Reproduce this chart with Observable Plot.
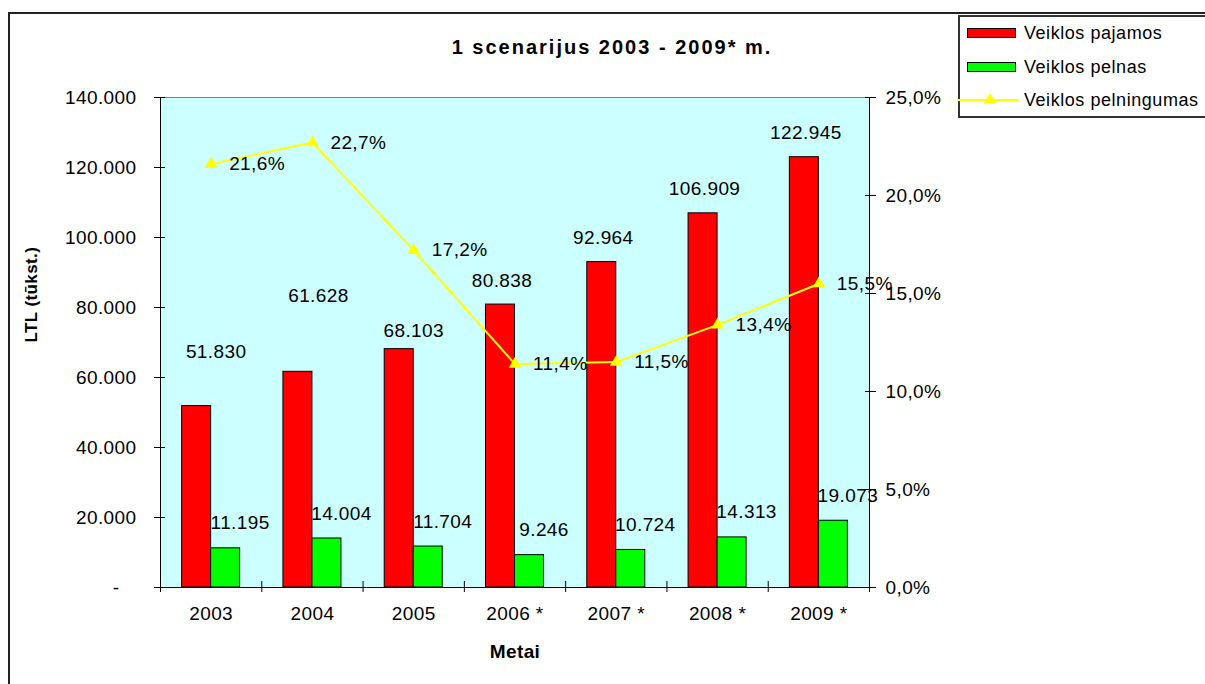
<!DOCTYPE html>
<html>
<head>
<meta charset="utf-8">
<script src="https://cdn.jsdelivr.net/npm/d3@7"></script>
<script src="https://cdn.jsdelivr.net/npm/@observablehq/plot@0.6"></script>
<style>
  body { margin: 0; background: #fff; font-family: "Liberation Sans", Arial, sans-serif; }
  #wrap { position: relative; width: 1205px; height: 684px; overflow: hidden; background: #fff; }
  #chart { position: absolute; left: 0; top: 0; }
  #outer { position: absolute; left: 8px; top: 12px; width: 1400px; height: 900px; border-left: 2px solid #222; border-top: 2px solid #222; }
  #title { position: absolute; left: 0; top: 36px; width: 1224px; text-align: center; font-weight: bold; font-size: 20px; letter-spacing: 2px; color: #000; }
  #legend { position: absolute; left: 958px; top: 15px; width: 300px; height: 99px; border: 2px solid #333; background: #fff; }
  .lg-text { position: absolute; font-size: 18px; letter-spacing: 0.55px; color: #000; line-height: 20px; white-space: nowrap; }
  .lg-swatch { position: absolute; border: 1px solid #000; }
</style>
</head>
<body>
<div id="wrap">
  <div id="outer"></div>
  <div id="chart"></div>
  <div id="title"></div>
  <div id="legend"></div>
</div>
<script>
// ---- data ----
const titleText = "1 scenarijus 2003 - 2009* m.";
const years = ["2003", "2004", "2005", "2006 *", "2007 *", "2008 *", "2009 *"];
const revenue = [51830, 61628, 68103, 80838, 92964, 106909, 122945];   // Veiklos pajamos
const profit = [11195, 14004, 11704, 9246, 10724, 14313, 19073];       // Veiklos pelnas
const margin = [21.6, 22.7, 17.2, 11.4, 11.5, 13.4, 15.5];             // Veiklos pelningumas (%)
const seriesNames = ["Veiklos pajamos", "Veiklos pelnas", "Veiklos pelningumas"];
const seriesColors = ["#ff0000", "#00ff00", "#ffff00"];
const leftTicks = [0, 20000, 40000, 60000, 80000, 100000, 120000, 140000];
const rightTicks = [0, 5, 10, 15, 20, 25];
const yTitle = "LTL (tūkst.)";
const xTitle = "Metai";

// ---- layout ----
const W = 1205, H = 684;
const mL = 160, mR = 336, mT = 97, mB = 97;
const bw = (W - mL - mR) / years.length;
const barW = 29;
const yMax = 140000, pMax = 25;
const k = yMax / pMax;

const fmtNum = v => v === 0 ? "-\u00a0\u00a0\u00a0" : d3.format(",")(v).replace(/,/g, ".");
const fmtPct = p => d3.format(".1f")(p).replace(".", ",") + "%";

const rows = years.map((year, i) => ({
  i, year, revenue: revenue[i], profit: profit[i], margin: margin[i], mScaled: margin[i] * k
}));

const revLabel = (pred, dx, dy) => Plot.text(rows.filter(pred), {
  x: "year", y: "revenue", text: d => fmtNum(d.revenue), dx, dy, textAnchor: "middle"
});

const chart = Plot.plot({
  width: W, height: H,
  marginLeft: mL, marginRight: mR, marginTop: mT, marginBottom: mB,
  style: { fontFamily: "Liberation Sans, Arial, sans-serif", fontSize: "19px", letterSpacing: "0.4px", background: "transparent", color: "#000" },
  x: { type: "band", domain: years, padding: 0, round: false, label: null },
  y: { domain: [0, yMax], label: null },
  marks: [
    Plot.frame({ fill: "#ccffff", stroke: "#808080" }),
    Plot.barY(rows, { x: "year", y: "revenue", fill: seriesColors[0], stroke: "#000", strokeWidth: 1,
      insetLeft: bw / 2 - barW, insetRight: bw / 2 }),
    Plot.barY(rows, { x: "year", y: "profit", fill: seriesColors[1], stroke: "#000", strokeWidth: 1,
      insetLeft: bw / 2, insetRight: bw / 2 - barW }),
    // axis lines
    Plot.ruleY([0], { stroke: "#000" }),
    Plot.ruleX([years[0]], { dx: -bw / 2, stroke: "#000" }),
    Plot.ruleX([years[years.length - 1]], { dx: bw / 2, stroke: "#000" }),
    // profitability line
    Plot.line(rows, { x: "year", y: "mScaled", stroke: seriesColors[2], strokeWidth: 2 }),
    Plot.dot(rows, { x: "year", y: "mScaled", symbol: "triangle", r: 4.7, fill: seriesColors[2], stroke: "none" }),
    Plot.text(rows, { x: "year", y: "mScaled", text: d => fmtPct(d.margin), dx: 18, textAnchor: "start" }),
    // revenue labels
    revLabel(d => d.i === 0, 5, -54),
    revLabel(d => d.i === 1, 6, -76),
    revLabel(d => d.i === 2, 0, -18),
    revLabel(d => d.i >= 3, -13, -24),
    // profit labels
    Plot.text(rows, { x: "year", y: "profit", text: d => fmtNum(d.profit), dx: 29, dy: -25, textAnchor: "middle" }),
    // left axis: ticks and labels
    Plot.axisY(leftTicks, { anchor: "left", tickSize: 11, dx: 5, fill: "none", label: null }),
    Plot.axisY(leftTicks, { anchor: "left", tickSize: 0, tickPadding: 24, tickFormat: fmtNum, label: null }),
    // right axis
    Plot.axisY(rightTicks.map(p => p * k), { anchor: "right", tickSize: 11, dx: -5, fill: "none", label: null }),
    Plot.axisY(rightTicks.map(p => p * k), { anchor: "right", tickSize: 0, tickPadding: 16, tickFormat: v => fmtPct(v / k), label: null }),
    // x axis: boundary ticks and labels
    Plot.axisX(years, { anchor: "bottom", tickSize: 11, dy: -6, dx: -bw / 2, fill: "none", label: null }),
    Plot.axisX([years[years.length - 1]], { anchor: "bottom", tickSize: 11, dy: -6, dx: bw / 2, fill: "none", label: null }),
    Plot.axisX(years, { anchor: "bottom", tickSize: 0, tickPadding: 19, label: null }),
    // axis titles
    Plot.text([yTitle], { text: d => d, frameAnchor: "left", dx: -129, rotate: -90, fontWeight: "bold", fontSize: 17, lineAnchor: "middle" }),
    Plot.text([xTitle], { text: d => d, frameAnchor: "bottom", dy: 64, fontWeight: "bold", lineAnchor: "middle", style: "letter-spacing:1.5px" })
  ]
});
document.getElementById("chart").appendChild(chart);

document.getElementById("title").textContent = titleText;

// legend
const wrap = document.getElementById("wrap");
const rowY = [33, 67, 100];
seriesNames.forEach((name, i) => {
  if (i < 2) {
    const sw = document.createElement("div");
    sw.className = "lg-swatch";
    Object.assign(sw.style, { left: "967px", top: (rowY[i] - 5) + "px", width: "47px", height: "8px", background: seriesColors[i] });
    wrap.appendChild(sw);
  } else {
    const svgNS = "http://www.w3.org/2000/svg";
    const s = document.createElementNS(svgNS, "svg");
    s.setAttribute("width", 64); s.setAttribute("height", 20);
    Object.assign(s.style, { position: "absolute", left: "957px", top: (rowY[i] - 10) + "px" });
    const ln = document.createElementNS(svgNS, "line");
    ln.setAttribute("x1", 0); ln.setAttribute("x2", 62); ln.setAttribute("y1", 10); ln.setAttribute("y2", 10);
    ln.setAttribute("stroke", seriesColors[i]); ln.setAttribute("stroke-width", 2);
    s.appendChild(ln);
    const tri = document.createElementNS(svgNS, "path");
    tri.setAttribute("d", d3.symbol(d3.symbolTriangle, 4.7 * 4.7 * Math.PI)());
    tri.setAttribute("transform", "translate(33,10)");
    tri.setAttribute("fill", seriesColors[i]);
    s.appendChild(tri);
    wrap.appendChild(s);
  }
  const t = document.createElement("div");
  t.className = "lg-text";
  t.textContent = name;
  Object.assign(t.style, { left: "1024px", top: (rowY[i] - 10) + "px" });
  wrap.appendChild(t);
});
</script>
</body>
</html>
